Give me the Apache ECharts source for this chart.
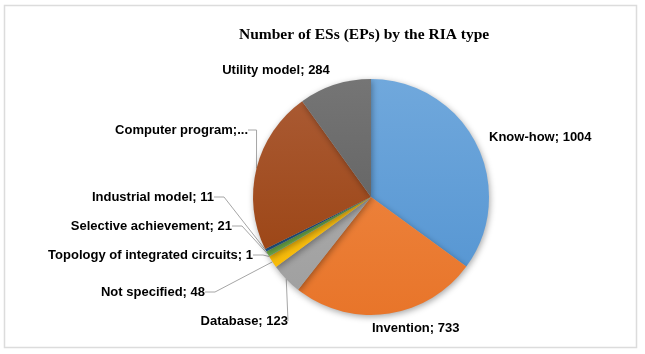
<!DOCTYPE html>
<html><head><meta charset="utf-8">
<script src="https://cdn.jsdelivr.net/npm/echarts@6/dist/echarts.min.js"></script>
<style>html,body{margin:0;padding:0;background:#fff}#c{width:645px;height:354px}</style>
</head><body><div id="c"></div>
<script>
var categories = ["Know-how","Invention","Database","Not specified","Topology of integrated circuits","Selective achievement","Industrial model","Computer program","Utility model"];
var values = [1004,733,123,48,1,21,11,641,284];
var labelTexts = ["Know-how; 1004","Invention; 733","Database; 123","Not specified; 48","Topology of integrated circuits; 1","Selective achievement; 21","Industrial model; 11","Computer program;...","Utility model; 284"];
var showLines = [false,false,true,true,true,true,true,true,false];
var colorsTop = ["#70a8dc","#f08b48","#b3b3b3","#ffc62a","#4f7cca","#7ab654","#2d6aa0","#ab5c36","#757575"];
var colorsBot = ["#5293d1","#e8752a","#9e9e9e","#f5b800","#406cbd","#68a541","#215689","#983f0c","#595959"];
// label anchor positions (x, y, align)
var labelPos = [[489,137,'left'],[372,328,'left'],[288,321,'right'],[205,292,'right'],[253,255,'right'],[232,226,'right'],[214,197,'right'],[248,130,'right'],[276,70,'center']];

var chart = echarts.init(document.getElementById('c'));
var data = categories.map(function(c,i){
  return {
    name: c, value: values[i],
    itemStyle: {color: new echarts.graphic.LinearGradient(0,79,0,315,[{offset:0,color:colorsTop[i]},{offset:1,color:colorsBot[i]}], true)},
    label: {formatter: labelTexts[i]},
    labelLine: {show: showLines[i]}
  };
});
chart.setOption({
  backgroundColor:'#fff',
  title:{text:'Number of ESs (EPs) by the RIA type', left:234, top:22,
    textStyle:{fontFamily:'Liberation Serif', fontWeight:'bold', fontSize:15.5, color:'#000'}},
  graphic:[{type:'rect', shape:{x:4.5,y:5.5,width:632,height:342}, style:{fill:'none',stroke:'#dcdcdc',lineWidth:1.5}, silent:true}],
  series:[{
    type:'pie', center:[371,197], radius:118, startAngle:90, clockwise:true,
    animation:false,
    itemStyle:{shadowBlur:6, shadowColor:'rgba(0,0,0,0.35)', shadowOffsetX:1, shadowOffsetY:2},
    label:{show:true, position:'outside', fontFamily:'Liberation Sans', fontWeight:'bold', fontSize:13, color:'#000'},
    labelLine:{lineStyle:{color:'#a6a6a6', width:1}, length:10, length2:10},
    labelLayout:function(p){
      var lp = labelPos[p.dataIndex];
      return {x: lp[0], y: lp[1], align: lp[2], verticalAlign:'middle'};
    },
    data:data
  }]
});
</script></body></html>
